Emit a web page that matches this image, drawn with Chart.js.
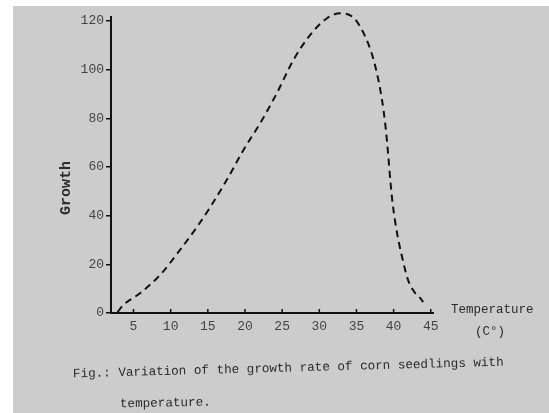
<!DOCTYPE html>
<html>
<head>
<meta charset="utf-8">
<script src="https://cdn.jsdelivr.net/npm/chart.js@4.4.1/dist/chart.umd.min.js"></script>
<style>
    html, body { margin: 0; padding: 0; background: #fff; }
    #wrap { width: 549px; height: 413px; }
</style>
</head>
<body>
<div id="wrap"><canvas id="growthChart" width="549" height="413"></canvas></div>
<script>
// Data
const temperatures = [2.85, 3.63, 5.87, 8.57, 11.26, 13.51, 15.3, 17.54, 19.78, 22.03, 24.27, 26.51, 28.76, 31.0, 32.79, 34.5, 36.4, 37.5, 38.44, 38.92, 39.25, 39.59, 39.86, 40.46, 41.14, 41.94, 42.89, 43.56, 43.97];
const growth = [0.4, 3.3, 8.1, 15.6, 25.9, 35.2, 43.4, 54.6, 66.9, 77.9, 90.2, 103.9, 114.2, 121.0, 123.1, 121.6, 112, 101.8, 87.5, 76.4, 65.7, 53.4, 45.2, 32.9, 23.0, 13.6, 8.2, 6.2, 4.5];
const xTicks = [5, 10, 15, 20, 25, 30, 35, 40, 45];
const yTicks = [0, 20, 40, 60, 80, 100, 120];

const yTitle = 'Growth';
const xTitle = ['Temperature', '(C°)'];
const caption = ['Fig.: Variation of the growth rate of corn seedlings with', 'temperature.'];

const mono = '"Liberation Mono", "DejaVu Sans Mono", monospace';

// Fondo tipo papel escaneado + textos sueltos
const paperPlugin = {
    id: 'paper',
    beforeDraw(chart) {
        const ctx = chart.ctx;
        ctx.save();
        ctx.fillStyle = '#ffffff';
        ctx.fillRect(0, 0, chart.width, chart.height);
        ctx.fillStyle = '#cccccc';
        ctx.fillRect(13, 6, chart.width - 13, chart.height - 6);
        ctx.restore();
    },
    afterDraw(chart) {
        const ctx = chart.ctx;
        const x = chart.scales.x;
        const area = chart.chartArea;
        ctx.save();

        // marcas del eje x hacia dentro
        ctx.strokeStyle = '#111';
        ctx.lineWidth = 1.5;
        xTicks.forEach(v => {
            const px = x.getPixelForValue(v);
            ctx.beginPath();
            ctx.moveTo(px, area.bottom);
            ctx.lineTo(px, area.bottom - 4);
            ctx.stroke();
        });

        ctx.fillStyle = '#2a2a2a';
        ctx.textBaseline = 'middle';

        // titulo eje y
        ctx.save();
        ctx.translate(66, 188);
        ctx.rotate(-Math.PI / 2);
        ctx.textAlign = 'center';
        ctx.font = 'bold 15px ' + mono;
        ctx.fillText(yTitle, 0, 0);
        ctx.restore();

        // titulo eje x
        ctx.textAlign = 'left';
        ctx.font = '12.5px ' + mono;
        ctx.fillText(xTitle[0], 451, 310);
        ctx.fillText(xTitle[1], 475, 332);

        // pie de figura (un poco inclinado como el escaneo)
        ctx.font = '12.6px ' + mono;
        ctx.save();
        ctx.translate(73, 374);
        ctx.rotate(-0.027);
        ctx.fillText(caption[0], 0, 0);
        ctx.restore();
        ctx.save();
        ctx.translate(120, 404);
        ctx.rotate(-0.02);
        ctx.fillText(caption[1], 0, 0);
        ctx.restore();

        ctx.restore();
    }
};

const ctx = document.getElementById('growthChart').getContext('2d');
const growthChart = new Chart(ctx, {
    type: 'line',
    data: {
        datasets: [{
            label: 'Growth',
            data: temperatures.map((t, i) => ({ x: t, y: growth[i] })),
            borderColor: '#111',
            borderWidth: 2,
            borderDash: [7, 5],
            pointRadius: 0,
            fill: false,
            cubicInterpolationMode: 'monotone',
            clip: false
        }]
    },
    options: {
        responsive: false,
        animation: false,
        layout: {
            padding: { left: 0, top: 17, right: 116, bottom: 0 }
        },
        plugins: {
            legend: { display: false },
            tooltip: { enabled: false }
        },
        scales: {
            x: {
                type: 'linear',
                min: 1.97,
                max: 45.3,
                afterBuildTicks: s => { s.ticks = xTicks.map(v => ({ value: v })); },
                afterFit: s => { s.height = 100; },
                grid: { drawOnChartArea: false, drawTicks: false },
                border: { color: '#111', width: 2 },
                ticks: {
                    padding: 6,
                    color: '#444',
                    font: { family: mono, size: 13 },
                    maxRotation: 0
                }
            },
            y: {
                min: 0,
                max: 121.6,
                afterBuildTicks: s => { s.ticks = yTicks.map(v => ({ value: v })); },
                afterFit: s => { s.width = 111; },
                grid: { drawOnChartArea: false, drawTicks: true, tickLength: 5, color: '#111', lineWidth: 1.5 },
                border: { color: '#111', width: 2 },
                ticks: {
                    padding: 2,
                    color: '#444',
                    font: { family: mono, size: 13 }
                }
            }
        }
    },
    plugins: [paperPlugin]
});
</script>
</body>
</html>
